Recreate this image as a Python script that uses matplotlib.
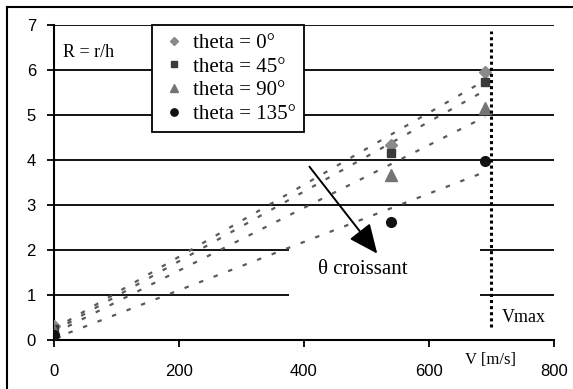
#!/usr/bin/env python3

import numpy as np
import matplotlib
matplotlib.use('Agg')
import matplotlib.pyplot as plt
from matplotlib.patches import Rectangle

# Measured speeds (m/s) and R = r/h for each angle
speeds = [0, 540, 690]
r_theta0 = [0.30, 4.33, 5.96]
r_theta45 = [0.25, 4.15, 5.73]
r_theta90 = [0.20, 3.67, 5.15]
r_theta135 = [0.10, 2.62, 3.98]
labels = ['theta = 0°', 'theta = 45°', 'theta = 90°', 'theta = 135°']
v_max = 700


def main():
    serif = ['Liberation Serif', 'DejaVu Serif']
    sans = ['Liberation Sans', 'DejaVu Sans']
    plt.rcParams['font.family'] = sans

    fig = plt.figure(figsize=(5.73, 3.89), dpi=100)
    ax = fig.add_axes([0.0942, 0.126, 0.8726, 0.8098])

    series = [r_theta0, r_theta45, r_theta90, r_theta135]
    markers = ['D', 's', '^', 'o']
    colors = ['#8a8a8a', '#3a3a3a', '#747474', '#111111']
    sizes = [6, 6, 8, 7]
    x = np.asarray(speeds, dtype=float)
    xfit = np.array([x.min(), x.max()])
    for vals, m, c, s, lab in zip(series, markers, colors, sizes, labels):
        ax.plot(x, vals, linestyle='none', marker=m, color=c, ms=s,
                label=lab, zorder=4)
        # linear trend line
        p = np.polyfit(x, vals, 1)
        ax.plot(xfit, np.polyval(p, xfit), color='#5a5a5a', lw=1.6,
                linestyle=(0, (2, 5)), zorder=3)

    # horizontal grid
    for yv in range(1, 8):
        ax.axhline(yv, color='black', lw=1.3, zorder=0)
    # white background of the annotation, hides part of the grid
    ax.add_patch(Rectangle((376, 0.9), 306, 1.4, facecolor='white',
                           edgecolor='none', zorder=1))

    ax.axvline(v_max, ymin=0.04, ymax=0.98, color='black', lw=2.2,
               linestyle=(0, (1, 1)), zorder=5)

    ax.annotate('', xy=(520, 1.87), xytext=(406, 3.9),
                arrowprops=dict(arrowstyle='-|>,head_length=1.8,head_width=0.8',
                                color='black', lw=1.4), zorder=6)
    ax.text(494, 1.56, 'θ croissant', family=serif, fontsize=15,
            ha='center', va='center', zorder=6)
    ax.text(14, 6.38, 'R = r/h', family=serif, fontsize=13,
            ha='left', va='center')
    ax.text(716, 0.49, 'Vmax', family=serif, fontsize=13,
            ha='left', va='center')
    ax.text(698, -0.44, 'V [m/s]', family=serif, fontsize=12,
            ha='center', va='center', clip_on=False)

    ax.set_xlim(0, 800)
    ax.set_ylim(0, 7)
    ax.set_xticks([0, 200, 400, 600, 800])
    ax.set_yticks(range(0, 8))
    ax.tick_params(direction='out', length=5, width=1.3, labelsize=12,
                   colors='black', pad=8)
    ax.tick_params(axis='x', pad=12)
    for side in ['top', 'right']:
        ax.spines[side].set_visible(False)
    for side in ['left', 'bottom']:
        ax.spines[side].set_linewidth(1.5)
    ax.set_facecolor('white')

    leg = ax.legend(loc='upper left', bbox_to_anchor=(0.196, 1.0),
                    borderaxespad=0, fancybox=False, framealpha=1,
                    edgecolor='black', prop={'family': serif, 'size': 15},
                    handlelength=1.3, handletextpad=0.25, labelspacing=0.2,
                    borderpad=0.4, markerscale=0.75)
    leg.get_frame().set_linewidth(1.3)
    leg.set_zorder(7)

    # outer chart frame (top and left visible)
    fig.add_artist(plt.Line2D([0.012, 1.0], [0.982, 0.982], color='black', lw=1.5))
    fig.add_artist(plt.Line2D([0.012, 0.012], [0.0, 0.982], color='black', lw=1.5))

    fig.savefig('out.png', dpi=100)


if __name__ == '__main__':
    main()
